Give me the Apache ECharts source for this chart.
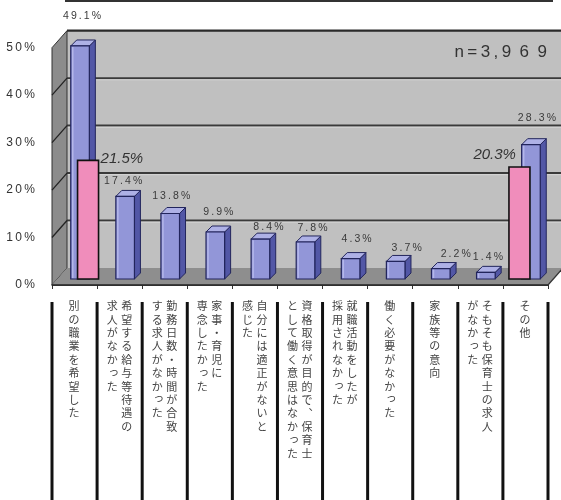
<!DOCTYPE html>
<html><head><meta charset="utf-8">
<script src="https://cdn.jsdelivr.net/npm/echarts/dist/echarts.min.js"></script>
<style>html,body{margin:0;padding:0;background:#fff}#c{width:561px;height:500px}</style>
</head><body><div id="c"></div>
<script>
// ---- data ----
const categoryColumns = [
  ["別の職業を希望した"],
  ["希望する給与等待遇の", "求人がなかった"],
  ["勤務日数・時間が合致", "する求人がなかった"],
  ["家事・育児に", "専念したかった"],
  ["自分には適正がないと", "感じた"],
  ["資格取得が目的で、保育士", "として働く意思はなかった"],
  ["就職活動をしたが", "採用されなかった"],
  ["働く必要がなかった"],
  ["家族等の意向"],
  ["そもそも保育士の求人", "がなかった"],
  ["その他"]
];
const values = [49.1, 17.4, 13.8, 9.9, 8.4, 7.8, 4.3, 3.7, 2.2, 1.4, 28.3];
const compareIndex = [0, 10];
const compareValues = [21.5, 20.3];
const yTicks = [0, 10, 20, 30, 40, 50];
const sampleLabel = "n=3,969";

// ---- layout / style ----
const labelNudge = [[-1,-15],[-5,0],[-2,-2],[0,-5],[5,3],[4,1],[3,-4],[8,2],[12,1],[-1,0],[3,-12]];
const DX = 15, DY = -17;     // wall depth
const BX = 5.5, BY = -6;     // bar position within depth
const BD = 6;                // bar depth
const spaced = s => s.split('').join('\u2009');
const NUMFONT = '"Liberation Sans", Arial, sans-serif';
const JPFONT = '"Noto Sans CJK JP", sans-serif';

function wallsItem(params, api) {
  const p00 = api.coord([0, 0]);
  const band = api.size([1, 0])[0];
  const left = p00[0] - band / 2;
  const right = api.coord([categoryColumns.length - 1, 0])[0] + band / 2;
  const y0 = p00[1];
  const yTop = api.coord([0, yTicks[yTicks.length - 1]])[1];
  const farRight = 570;
  const ch = [];
  ch.push({type: 'rect', shape: {x: left + DX, y: yTop + DY, width: farRight - left - DX, height: y0 - yTop}, style: {fill: '#c0c0c0'}});
  yTicks.slice(1, -1).forEach(t => {
    const y = api.coord([0, t])[1];
    ch.push({type: 'line', shape: {x1: left + DX, y1: y + DY, x2: farRight, y2: y + DY}, style: {stroke: '#3a3a3a', lineWidth: 2}});
    ch.push({type: 'line', shape: {x1: left + DX, y1: y + DY + 1.6, x2: farRight, y2: y + DY + 1.6}, style: {stroke: '#d6d6d6', lineWidth: 1}});
  });
  ch.push({type: 'line', shape: {x1: left + DX, y1: yTop + DY, x2: farRight, y2: yTop + DY}, style: {stroke: '#2a2a2a', lineWidth: 2.2}});
  ch.push({type: 'polygon', shape: {points: [[left, yTop], [left + DX, yTop + DY], [left + DX, y0 + DY], [left, y0]]}, style: {fill: '#8c8c8c', stroke: '#333', lineWidth: 1}});
  yTicks.slice(1, -1).forEach(t => {
    const y = api.coord([0, t])[1];
    ch.push({type: 'line', shape: {x1: left, y1: y, x2: left + DX, y2: y + DY}, style: {stroke: '#222', lineWidth: 1.3}});
  });
  ch.push({type: 'polygon', shape: {points: [[left, y0], [right, y0], [right + DX, y0 + DY], [left + DX, y0 + DY]]}, style: {fill: '#8e8e8e'}});
  ch.push({type: 'line', shape: {x1: left, y1: y0, x2: right, y2: y0}, style: {stroke: '#222', lineWidth: 1.5}});
  ch.push({type: 'line', shape: {x1: right, y1: y0, x2: right + DX, y2: y0 + DY}, style: {stroke: '#333', lineWidth: 1.2}});
  return {type: 'group', children: ch};
}

function barItem(params, api) {
  const i = api.value(0), v = api.value(1);
  const base = api.coord([i, 0]), top = api.coord([i, v]);
  const cx = base[0] + BX, hw = 9.3;
  const x0 = cx - hw, x1 = cx + hw, yb = base[1] + BY, yt = top[1] + BY;
  const line = '#22255c';
  const n = labelNudge[i] || [0, 0];
  return {type: 'group', children: [
    {type: 'polygon', shape: {points: [[x1, yt], [x1 + BD, yt - BD], [x1 + BD, yb - BD], [x1, yb]]}, style: {fill: '#5257a6', stroke: line, lineWidth: 1}},
    {type: 'polygon', shape: {points: [[x0, yt], [x0 + BD, yt - BD], [x1 + BD, yt - BD], [x1, yt]]}, style: {fill: '#aeb1e6', stroke: line, lineWidth: 1}},
    {type: 'rect', shape: {x: x0, y: yt, width: hw * 2, height: yb - yt}, style: {fill: '#9296d8', stroke: line, lineWidth: 1.2}},
    {type: 'line', shape: {x1: x0 + 2, y1: yt + 1, x2: x0 + 2, y2: yb - 1}, style: {stroke: '#b4b7ea', lineWidth: 1.5}},
    {type: 'text', style: {text: spaced(v.toFixed(1) + '%'), x: cx + 3 + n[0], y: yt - 15 + n[1], align: 'center', verticalAlign: 'middle', font: '10.5px ' + NUMFONT, fill: '#3a3a3a'}}
  ]};
}

function pinkItem(params, api) {
  const i = api.value(0), v = api.value(1);
  const k = params.dataIndex;
  const base = api.coord([i, 0]), top = api.coord([i, v]);
  const shift = k === 0 ? 13.5 : -6;
  const w = 21;
  const x0 = base[0] + shift - w / 2, yb = base[1] + BY, yt = top[1] + BY;
  const lab = {type: 'text', style: {text: v.toFixed(1) + '%', font: 'italic 15px ' + NUMFONT, fill: '#333'}};
  if (k === 0) { Object.assign(lab.style, {x: x0 + w + 2, y: yt - 2, align: 'left', verticalAlign: 'middle'}); }
  else { Object.assign(lab.style, {x: x0 + 7, y: yt - 5, align: 'right', verticalAlign: 'bottom'}); }
  return {type: 'group', children: [
    {type: 'rect', shape: {x: x0, y: yt, width: w, height: yb - yt}, style: {fill: '#f08dbb', stroke: '#111', lineWidth: 1.6}},
    lab
  ]};
}

function catItem(params, api) {
  const i = api.value(0);
  const p = api.coord([i, 0]);
  const band = api.size([1, 0])[0];
  const cols = categoryColumns[i];
  const offs = cols.length === 1 ? [-0.5] : [7, -7.5];
  const ch = [];
  cols.forEach((col, c) => {
    Array.from(col).forEach((chr, j) => {
      let x = p[0] + offs[c], y = p[1] + 21 + j * 13.4;
      if (chr === '、' || chr === '。') { x += 7; y -= 7; }
      if ('っゃゅょ'.includes(chr)) { x += 1.5; y -= 1.5; }
      ch.push({type: 'text', style: {text: chr, x: x, y: y, align: 'center', verticalAlign: 'middle', font: '11px ' + JPFONT, fill: '#444'}});
    });
  });
  const yS = p[1] + 17;
  ch.push({type: 'rect', shape: {x: p[0] - band / 2 - 1.5, y: yS, width: 3, height: 520 - yS}, style: {fill: '#111'}});
  if (i === categoryColumns.length - 1) {
    ch.push({type: 'rect', shape: {x: p[0] + band / 2 - 1.5, y: yS, width: 3, height: 520 - yS}, style: {fill: '#111'}});
  }
  return {type: 'group', children: ch};
}

const chart = echarts.init(document.getElementById('c'), null, {renderer: 'canvas'});
chart.setOption({
  animation: false,
  backgroundColor: '#fff',
  grid: {left: 52, right: 13, top: 47.7, bottom: 215},
  xAxis: {
    type: 'category', data: categoryColumns.map(c => c.join('')), boundaryGap: true,
    axisLine: {show: true, lineStyle: {color: '#222', width: 1.5}},
    axisTick: {show: true, length: 4, interval: 0, lineStyle: {color: '#333'}},
    axisLabel: {show: false}
  },
  yAxis: [
    {type: 'value', min: 0, max: 50, interval: 10,
     axisLine: {show: false}, axisTick: {show: false}, splitLine: {show: false},
     axisLabel: {margin: 17, color: '#333', fontSize: 12, fontFamily: NUMFONT, formatter: v => spaced(v + '%')}},
    {type: 'value', min: 0, max: 43, show: false, splitLine: {show: false}}
  ],
  graphic: [
    {type: 'rect', z: 100, shape: {x: 66, y: -20, width: 486, height: 21}, style: {fill: 'none', stroke: '#333', lineWidth: 2}},
    {type: 'text', z: 100, x: 547, y: 52, style: {text: 'n\u2009=\u20093\u2009,\u20099\u20026\u20029', font: '17px ' + NUMFONT, fill: '#333', align: 'right', verticalAlign: 'middle'}}
  ],
  series: [
    {type: 'custom', name: 'walls', z: 1, renderItem: wallsItem, data: [[0, 0]], silent: true},
    {type: 'custom', name: 'values', z: 3, renderItem: barItem, data: values.map((v, i) => [i, v])},
    {type: 'custom', name: 'compare', z: 4, yAxisIndex: 1, renderItem: pinkItem, data: compareIndex.map((c, k) => [c, compareValues[k]])},
    {type: 'custom', name: 'cats', z: 5, renderItem: catItem, data: categoryColumns.map((c, i) => [i, 0])}
  ]
});
</script></body></html>
